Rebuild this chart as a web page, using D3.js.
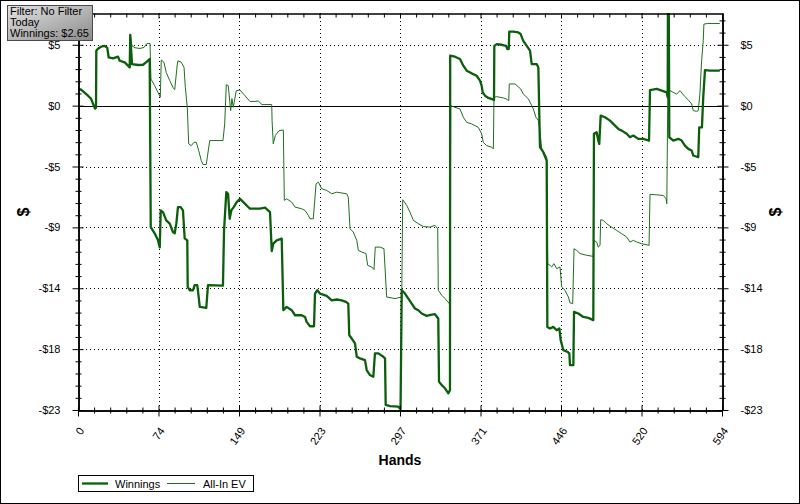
<!DOCTYPE html>
<html><head><meta charset="utf-8">
<script src="https://cdn.jsdelivr.net/npm/d3@7"></script>
<style>
html,body{margin:0;padding:0;background:#fff;}
svg{display:block;}
</style></head>
<body><svg id="c" width="800" height="504"></svg>
<script>
// ---- data ----
const winHands = [0,2.8,9.2,12.0,15.7,16.6,16.9,18.4,21.2,24.6,27.0,28.3,32.3,36.9,38.5,43.1,47.7,48.2,
49.8,55.3,60.0,62.7,66.1,67.1,70.7,73.8,75.4,76.3,78.4,81.4,84.6,87.6,89.2,90.7,92.2,94.7,96.8,98.4,100.8,101.2,
103.0,106.1,107.6,110.0,111.3,112.3,118.3,119.9,133.7,134.7,136.8,138.4,139.9,141.4,143.6,146.4,149.4,152.5,158.6,
167.9,172.5,177.1,178.7,180.1,183.3,187.9,189.4,192.5,197.1,200.2,206.3,209.4,210.9,214.0,217.7,218.6,220.7,223.2,
229.4,234.0,238.6,243.2,247.2,249.3,250.2,252.5,255.5,257.1,260.1,264.7,266.3,269.3,272.4,273.9,277.0,281.6,283.2,
283.8,287.8,295.4,297.5,298.6,301.6,304.7,307.8,310.8,313.9,317.0,321.6,326.2,329.3,332.3,333.0,335.5,338.5,341.6,
343.1,343.3,347.7,352.3,355.4,358.5,363.1,367.7,370.8,372.3,373.3,375.4,378.5,383.7,384.0,386.2,390.8,394.8,396.0,
397.3,397.8,401.5,406.1,408.3,410.7,413.9,416.9,418.5,423.1,424.6,426.1,429.2,432.3,432.9,435.4,438.4,441.5,444.0,
445.2,447.7,451.3,453.2,453.8,456.9,457.5,461.5,466.1,470.7,475.3,475.9,478.4,479.9,480.8,482.1,486.1,490.7,495.3,
498.4,501.5,506.1,509.1,512.2,516.8,521.4,526.7,527.6,533.8,538.4,543.0,543.9,544.2,544.8,545.4,549.1,553.7,556.8,
559.8,562.9,566.0,567.5,572.1,573.0,575.5,576.7,578.3,582.9,592.0];
const winValues = [1.28,1.21,0.75,0.53,-0.23,-0.15,4.15,4.30,4.45,4.52,4.37,3.64,3.57,3.70,3.39,3.27,2.89,5.35,
3.14,3.07,3.09,3.27,3.52,-9.18,-9.65,-10.18,-10.71,-7.92,-8.05,-8.67,-8.92,-9.55,-9.65,-8.92,-7.67,-7.67,-7.92,-10.03,-10.18,-13.70,
-13.95,-13.95,-13.57,-13.57,-14.46,-15.21,-15.29,-13.57,-13.60,-9.43,-6.54,-6.66,-8.55,-7.92,-7.67,-7.29,-7.04,-7.29,-7.79,
-7.79,-7.71,-8.05,-10.99,-10.43,-10.18,-10.05,-15.46,-15.21,-15.46,-15.84,-15.84,-15.97,-16.34,-16.67,-16.67,-14.20,-13.95,-14.20,
-14.38,-14.71,-14.65,-14.71,-14.83,-14.96,-17.35,-17.60,-17.97,-18.98,-19.10,-19.23,-19.98,-20.36,-20.49,-18.72,-18.72,-18.98,-19.10,
-22.62,-22.70,-22.75,-22.95,-13.95,-14.20,-14.58,-14.96,-15.33,-15.46,-15.71,-15.89,-15.79,-15.76,-16.09,-20.87,-21.12,-21.36,-21.74,
-21.49,3.77,3.70,3.52,3.02,2.64,2.44,2.26,1.89,1.51,1.00,0.75,0.58,0.43,4.52,4.65,4.60,4.52,4.28,
4.28,5.60,5.60,5.53,5.41,4.90,4.52,4.15,3.14,3.14,2.89,-3.14,-3.52,-4.15,-16.72,-16.84,-16.72,-16.97,-16.84,
-17.72,-18.48,-18.60,-18.72,-19.61,-19.61,-15.59,-15.71,-15.97,-16.04,-16.21,-2.13,-2.01,-2.64,-2.89,-0.75,-0.88,-1.13,-1.51,
-1.76,-1.89,-2.13,-2.39,-2.26,-2.51,-2.51,-2.64,1.18,1.26,1.13,1.00,0.63,9.50,9.50,-2.39,-2.64,-2.51,-2.64,
-3.02,-3.27,-3.39,-3.77,-3.90,-1.64,-1.64,0.63,2.68,2.65,2.65];

const evHands = [0,2.8,9.2,12.0,15.7,16.6,16.9,18.4,21.2,24.6,27.0,28.3,32.3,36.9,38.5,43.1,47.7,48.2,
49.8,52.6,57.2,60.9,63.4,66.4,67.3,70.7,73.8,75.9,76.8,79.3,81.4,84.6,87.6,89.2,91.6,92.2,95.3,97.8,99.0,100.8,
102.1,104.5,107.0,109.1,111.3,113.7,115.3,118.3,121.5,133.7,135.3,136.8,138.6,140.8,142.0,143.2,146.0,149.4,154.0,
158.6,163.3,166.3,169.7,178.7,179.0,180.1,182.0,185.4,189.4,190.3,192.5,197.1,200.2,206.3,209.4,212.5,214.0,217.0,
219.6,221.7,224.8,229.4,234.0,238.6,247.8,249.3,250.9,253.9,257.1,258.6,261.7,265.6,267.2,270.9,273.0,274.2,278.6,
282.2,284.7,292.4,298.6,299.5,303.2,306.2,309.3,313.9,318.5,324.7,329.3,331.8,332.3,335.5,338.5,343.1,343.8,347.7,
352.3,355.4,358.5,363.1,369.2,372.3,373.8,376.9,381.6,383.1,383.7,386.2,392.3,394.8,397.3,397.8,403.1,408.3,410.7,
415.4,420.0,422.4,424.6,426.1,427.7,432.3,433.2,435.4,436.9,439.0,441.5,444.6,446.1,449.2,452.3,453.8,456.3,457.5,
460.0,463.1,469.2,475.3,475.9,478.4,479.9,481.5,482.1,484.5,487.6,492.2,496.8,501.5,506.1,509.1,512.2,515.3,519.9,
526.7,527.6,533.8,539.9,542.4,543.1,544.0,546.1,549.1,552.2,555.3,557.7,559.8,562.9,566.0,567.5,570.6,572.1,573.6,
575.2,576.7,577.3,581.0,592.0];
const evValues = [1.28,1.21,0.75,0.53,-0.23,-0.15,4.15,4.30,4.45,4.52,4.37,3.64,3.57,3.70,3.39,3.27,2.89,5.35,
4.52,4.37,4.32,4.40,4.68,4.70,2.01,1.51,1.00,0.63,3.45,3.27,2.51,1.89,1.38,1.21,3.14,3.39,3.27,2.89,1.38,-0.13,
-2.89,-3.02,-2.77,-2.77,-3.39,-4.15,-4.45,-4.45,-2.64,-2.64,-1.38,1.58,1.51,-0.38,0.53,-0.13,1.13,1.18,0.75,
0.32,0.32,0.35,0.08,0.08,-1.13,-2.89,-2.26,-1.89,-1.84,-7.16,-7.04,-7.29,-7.67,-7.79,-7.92,-8.30,-8.55,-8.55,
-5.90,-5.78,-6.28,-6.41,-6.66,-6.54,-6.66,-6.92,-9.30,-9.55,-10.18,-10.94,-11.06,-11.18,-12.07,-12.19,-12.39,-10.69,-10.69,
-10.81,-14.46,-14.58,-14.46,-7.11,-7.54,-8.05,-8.67,-8.92,-9.13,-9.18,-9.05,-9.30,-13.95,-14.33,-14.58,-15.01,0.00,-0.13,
-0.25,-0.88,-1.26,-1.38,-1.64,-2.13,-2.77,-3.02,-3.14,-3.27,0.63,0.68,0.58,0.51,0.38,1.64,1.64,1.26,0.88,
0.51,-0.25,-0.88,-1.13,-1.89,-3.27,-3.90,-11.94,-12.07,-12.19,-11.94,-12.32,-12.19,-13.70,-13.95,-14.46,-14.90,-14.96,-10.81,
-10.94,-11.18,-11.31,-11.39,-10.18,-10.31,-10.69,-10.56,-8.62,-8.67,-8.92,-9.18,-9.43,-9.68,-9.93,-10.31,-10.18,-10.31,-10.43,
-10.56,-6.71,-6.74,-6.79,-7.04,-7.41,0.88,1.13,1.00,0.88,1.13,0.88,0.68,0.43,0.13,-0.38,-0.43,-0.38,0.88,
3.39,4.90,6.16,6.21,6.21];

const xTickValues = [0,74.25,148.5,222.75,297,371.25,445.5,519.75,594];
const xTickLabels = ["0","74","149","223","297","371","446","520","594"];
const yTickValues = [4.6,0,-4.6,-9.2,-13.8,-18.4,-23];
const yTickLabels = ["$5","$0","-$5","-$9","-$14","-$18","-$23"];
const seriesNames = ["Winnings","All-In EV"];
const infoLines = ["Filter: No Filter","Today","Winnings: $2.65"];

// ---- layout ----
const L=78,R=722,T=13,B=410;
const svg=d3.select("#c");
const x=d3.scaleLinear().domain([0,594]).range([L,R]);
const y=d3.scaleLinear().domain([-23,7]).range([B,T]);
const font="'Liberation Sans', Arial, sans-serif";

svg.append("rect").attr("x",0.5).attr("y",0.5).attr("width",799).attr("height",503)
  .attr("fill","#fff").attr("stroke","#000");

const xMinor=d3.range(0,595,594/40).filter((d,i)=>i%5!==0);
const yMinor=d3.range(-23,7.01,0.92).filter((d,i)=>i%5!==0);

// grid
const grid=svg.append("g").attr("stroke","#000").attr("stroke-dasharray","1,3").attr("stroke-width",1);
xTickValues.slice(1,-1).forEach(v=>grid.append("line").attr("x1",Math.round(x(v))+0.5).attr("x2",Math.round(x(v))+0.5).attr("y1",T).attr("y2",B));
yTickValues.filter(v=>v!==0&&v!==-23).forEach(v=>grid.append("line").attr("y1",Math.round(y(v))+0.5).attr("y2",Math.round(y(v))+0.5).attr("x1",L).attr("x2",R));
svg.append("line").attr("x1",L).attr("x2",R).attr("y1",Math.round(y(0))+0.5).attr("y2",Math.round(y(0))+0.5).attr("stroke","#000");

// clip
svg.append("clipPath").attr("id","pc").append("rect").attr("x",L).attr("y",T).attr("width",R-L).attr("height",B-T);
const line=d3.line().x(d=>x(d[0])).y(d=>y(d[1]));
const ev=evHands.map((h,i)=>[h,evValues[i]]);
const win=winHands.map((h,i)=>[h,winValues[i]]);
const plot=svg.append("g").attr("clip-path","url(#pc)");
plot.append("path").attr("d",line(ev)).attr("fill","none").attr("stroke","#1f6f1f").attr("stroke-width",1);
plot.append("path").attr("d",line(win)).attr("fill","none").attr("stroke","#0b5e0b").attr("stroke-width",2.3).attr("stroke-linejoin","round");

// axes
function ax(gen,pos,vals,size,fmt,pad){
  const a=gen.tickValues(vals).tickSizeInner(size).tickSizeOuter(0).tickFormat(fmt||"").tickPadding(pad||3);
  const g=svg.append("g").attr("transform",pos).call(a);
  g.selectAll("text").attr("font-family",font).attr("font-size",11).attr("fill","#000");
  g.selectAll("line,path").attr("stroke","#000");
  return g;
}
// left
ax(d3.axisLeft(y),`translate(${L+0.5},0)`,yTickValues,6,(d,i)=>yTickLabels[i],12);
ax(d3.axisRight(y),`translate(${L+0.5},0)`,yTickValues,5);
ax(d3.axisLeft(y),`translate(${L+0.5},0)`,yMinor,3);
ax(d3.axisRight(y),`translate(${L+0.5},0)`,yMinor,3);
// right
ax(d3.axisRight(y),`translate(${R+0.5},0)`,yTickValues,6,(d,i)=>yTickLabels[i],12);
ax(d3.axisLeft(y),`translate(${R+0.5},0)`,yTickValues,5);
ax(d3.axisRight(y),`translate(${R+0.5},0)`,yMinor,3);
ax(d3.axisLeft(y),`translate(${R+0.5},0)`,yMinor,3);
// bottom
const xb=ax(d3.axisBottom(x),`translate(0,${B+0.5})`,xTickValues,6,(d,i)=>xTickLabels[i],3);
xb.selectAll("text").attr("x",0).attr("y",0).attr("dy","0.35em").attr("text-anchor","end")
  .attr("transform","translate(3,18) rotate(-55)");
ax(d3.axisTop(x),`translate(0,${B+0.5})`,xTickValues,5);
ax(d3.axisBottom(x),`translate(0,${B+0.5})`,xMinor,3);
ax(d3.axisTop(x),`translate(0,${B+0.5})`,xMinor,3);
// top
ax(d3.axisBottom(x),`translate(0,${T+0.5})`,xTickValues,5);
ax(d3.axisBottom(x),`translate(0,${T+0.5})`,xMinor,4);

// axis titles
svg.append("text").attr("transform","translate(29,212) rotate(-90)").attr("text-anchor","middle")
  .attr("font-family",font).attr("font-weight","bold").attr("font-size",16).text("$");
svg.append("text").attr("transform","translate(781,212) rotate(-90)").attr("text-anchor","middle")
  .attr("font-family",font).attr("font-weight","bold").attr("font-size",16).text("$");
svg.append("text").attr("x",400).attr("y",465).attr("text-anchor","middle")
  .attr("font-family",font).attr("font-weight","bold").attr("font-size",14).text("Hands");

// legend
const lg=svg.append("g");
lg.append("rect").attr("x",78.5).attr("y",475.5).attr("width",175).attr("height",16).attr("fill","#fff").attr("stroke","#000");
lg.append("line").attr("x1",82).attr("x2",108).attr("y1",483.5).attr("y2",483.5).attr("stroke","#0b5e0b").attr("stroke-width",2.3);
lg.append("text").attr("x",115).attr("y",487.5).attr("font-family",font).attr("font-size",11).text(seriesNames[0]);
lg.append("line").attr("x1",167).attr("x2",195).attr("y1",483.5).attr("y2",483.5).attr("stroke","#1f6f1f").attr("stroke-width",1);
lg.append("text").attr("x",203).attr("y",487.5).attr("font-family",font).attr("font-size",11).text(seriesNames[1]);

// info box
const defs=svg.append("defs");
const gr=defs.append("linearGradient").attr("id","ib").attr("x1",0).attr("y1",0).attr("x2",1).attr("y2",1);
gr.append("stop").attr("offset","0%").attr("stop-color","#e4e4e4");
gr.append("stop").attr("offset","100%").attr("stop-color","#8a8a8a");
svg.append("rect").attr("x",7.5).attr("y",5.5).attr("width",85).attr("height",35).attr("fill","url(#ib)").attr("stroke","#4a4a4a");
infoLines.forEach((t,i)=>svg.append("text").attr("x",10).attr("y",15+i*11).attr("font-family",font)
  .attr("font-size",11).attr("fill","#000").text(t));
</script></body></html>
